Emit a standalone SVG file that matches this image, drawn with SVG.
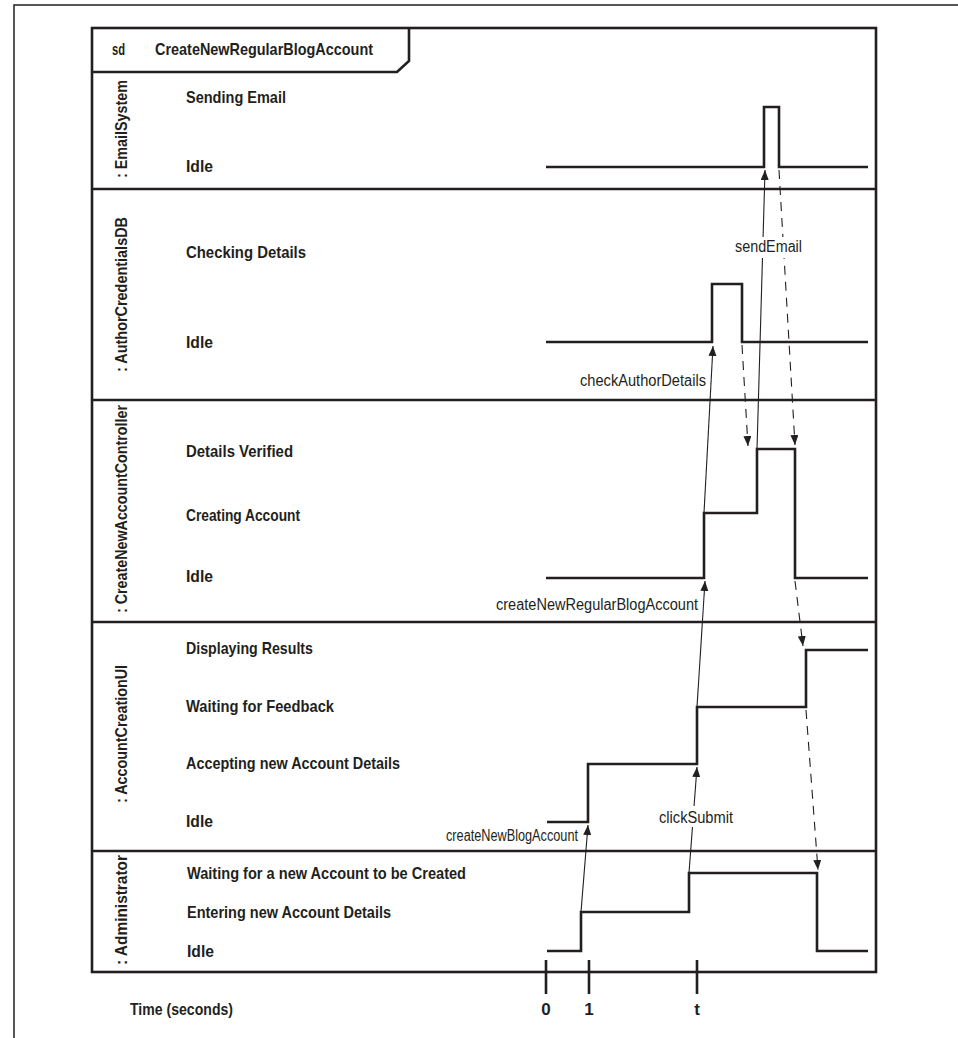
<svg xmlns="http://www.w3.org/2000/svg" width="958" height="1038" viewBox="0 0 958 1038">
<style>
.frame{fill:none;stroke:#231f20;stroke-width:2.6}
.div{stroke:#231f20;stroke-width:2.6}
.st{fill:none;stroke:#231f20;stroke-width:2.6;stroke-linejoin:miter}
.msg{fill:none;stroke:#231f20;stroke-width:1.1}
.ret{fill:none;stroke:#231f20;stroke-width:1.1;stroke-dasharray:9 7}
.b{font-family:"Liberation Sans Narrow","Liberation Sans",sans-serif;font-weight:bold;font-size:17px;fill:#231f20}
.m{font-family:"Liberation Sans Narrow","Liberation Sans",sans-serif;font-size:16px;fill:#231f20}
.tick{stroke:#231f20;stroke-width:2.6}
</style>
<defs>
<marker id="ah" markerWidth="12" markerHeight="10" refX="10" refY="4" orient="auto" markerUnits="userSpaceOnUse">
<path d="M0,0 L10,4 L0,8 z" fill="#231f20"/>
</marker>
</defs>
<rect width="958" height="1038" fill="#fff"/>
<path d="M14,1038 L14,5 L958,5" fill="none" stroke="#231f20" stroke-width="1.5"/>

<g id="frame">
<rect class="frame" x="92" y="28" width="784" height="944"/>
<path class="frame" d="M92,72 L397,72 L409,61 L409,28"/>
<text class="b" x="112" y="55" textLength="13" lengthAdjust="spacingAndGlyphs">sd</text>
<text class="b" x="155" y="55" textLength="218" lengthAdjust="spacingAndGlyphs">CreateNewRegularBlogAccount</text>
<line class="div" x1="92" y1="189" x2="876" y2="189"/>
<line class="div" x1="92" y1="400" x2="876" y2="400"/>
<line class="div" x1="92" y1="622" x2="876" y2="622"/>
<line class="div" x1="92" y1="851" x2="876" y2="851"/>
</g>

<g id="lane-emailsystem">
<text class="b" transform="translate(127,178) rotate(-90)" textLength="98" lengthAdjust="spacingAndGlyphs">: EmailSystem</text>
<text class="b" x="186" y="103" textLength="100" lengthAdjust="spacingAndGlyphs">Sending Email</text>
<text class="b" x="186" y="172" textLength="27" lengthAdjust="spacingAndGlyphs">Idle</text>
<path class="st" d="M546,167 H764 V107 H779 V167 H868"/>
</g>

<g id="lane-authorcredentialsdb">
<text class="b" transform="translate(127,372) rotate(-90)" textLength="155" lengthAdjust="spacingAndGlyphs">: AuthorCredentialsDB</text>
<text class="b" x="186" y="258" textLength="120" lengthAdjust="spacingAndGlyphs">Checking Details</text>
<text class="b" x="186" y="348" textLength="27" lengthAdjust="spacingAndGlyphs">Idle</text>
<path class="st" d="M546,342 H712 V284 H742 V342 H868"/>
</g>

<g id="lane-createnewaccountcontroller">
<text class="b" transform="translate(127,613) rotate(-90)" textLength="208" lengthAdjust="spacingAndGlyphs">: CreateNewAccountController</text>
<text class="b" x="186" y="457" textLength="107" lengthAdjust="spacingAndGlyphs">Details Verified</text>
<text class="b" x="186" y="521" textLength="114" lengthAdjust="spacingAndGlyphs">Creating Account</text>
<text class="b" x="186" y="582" textLength="27" lengthAdjust="spacingAndGlyphs">Idle</text>
<path class="st" d="M546,578 H704 V513 H757 V449 H795 V578 H868"/>
</g>

<g id="lane-accountcreationui">
<text class="b" transform="translate(127,803) rotate(-90)" textLength="138" lengthAdjust="spacingAndGlyphs">: AccountCreationUI</text>
<text class="b" x="186" y="654" textLength="127" lengthAdjust="spacingAndGlyphs">Displaying Results</text>
<text class="b" x="186" y="712" textLength="148" lengthAdjust="spacingAndGlyphs">Waiting for Feedback</text>
<text class="b" x="186" y="769" textLength="214" lengthAdjust="spacingAndGlyphs">Accepting new Account Details</text>
<text class="b" x="186" y="827" textLength="27" lengthAdjust="spacingAndGlyphs">Idle</text>
<path class="st" d="M547,822 H588 V764 H697 V707 H806 V650 H868"/>
</g>

<g id="lane-administrator">
<text class="b" transform="translate(127,965) rotate(-90)" textLength="110" lengthAdjust="spacingAndGlyphs">: Administrator</text>
<text class="b" x="187" y="879" textLength="279" lengthAdjust="spacingAndGlyphs">Waiting for a new Account to be Created</text>
<text class="b" x="187" y="918" textLength="204" lengthAdjust="spacingAndGlyphs">Entering new Account Details</text>
<text class="b" x="187" y="957" textLength="27" lengthAdjust="spacingAndGlyphs">Idle</text>
<path class="st" d="M547,951 H581 V912 H689 V873 H817 V951 H868"/>
</g>

<g id="time-axis">
<line class="tick" x1="546" y1="960" x2="546" y2="994"/>
<line class="tick" x1="589" y1="960" x2="589" y2="994"/>
<line class="tick" x1="697" y1="960" x2="697" y2="994"/>
<text class="b" x="546" y="1015" text-anchor="middle">0</text>
<text class="b" x="589" y="1015" text-anchor="middle">1</text>
<text class="b" x="697" y="1015" text-anchor="middle">t</text>
<text class="b" x="130" y="1015" textLength="103" lengthAdjust="spacingAndGlyphs">Time (seconds)</text>
</g>

<g id="connectors">
<line class="msg" x1="581" y1="912" x2="588" y2="825" marker-end="url(#ah)"/>
<line class="msg" x1="689" y1="873" x2="697" y2="767" marker-end="url(#ah)"/>
<line class="msg" x1="697" y1="707" x2="705" y2="581" marker-end="url(#ah)"/>
<line class="msg" x1="704" y1="513" x2="713" y2="346" marker-end="url(#ah)"/>
<line class="msg" x1="757" y1="449" x2="765" y2="170" marker-end="url(#ah)"/>
<line class="ret" x1="779" y1="170" x2="795" y2="445" marker-end="url(#ah)"/>
<line class="ret" x1="742" y1="345" x2="748" y2="446" marker-end="url(#ah)"/>
<line class="ret" x1="795" y1="581" x2="803" y2="646" marker-end="url(#ah)"/>
<line class="ret" x1="806" y1="710" x2="818" y2="870" marker-end="url(#ah)"/>
<rect x="734" y="237" width="70" height="21" fill="#fff"/>
<rect x="657" y="806" width="79" height="21" fill="#fff"/>
<text class="m" x="735" y="252" textLength="67" lengthAdjust="spacingAndGlyphs">sendEmail</text>
<text class="m" x="580" y="386" textLength="126" lengthAdjust="spacingAndGlyphs">checkAuthorDetails</text>
<text class="m" x="496" y="610" textLength="202" lengthAdjust="spacingAndGlyphs">createNewRegularBlogAccount</text>
<text class="m" x="659" y="823" textLength="74" lengthAdjust="spacingAndGlyphs">clickSubmit</text>
<text class="m" x="446" y="841" font-size="14" textLength="132" lengthAdjust="spacingAndGlyphs">createNewBlogAccount</text>
</g>
</svg>
